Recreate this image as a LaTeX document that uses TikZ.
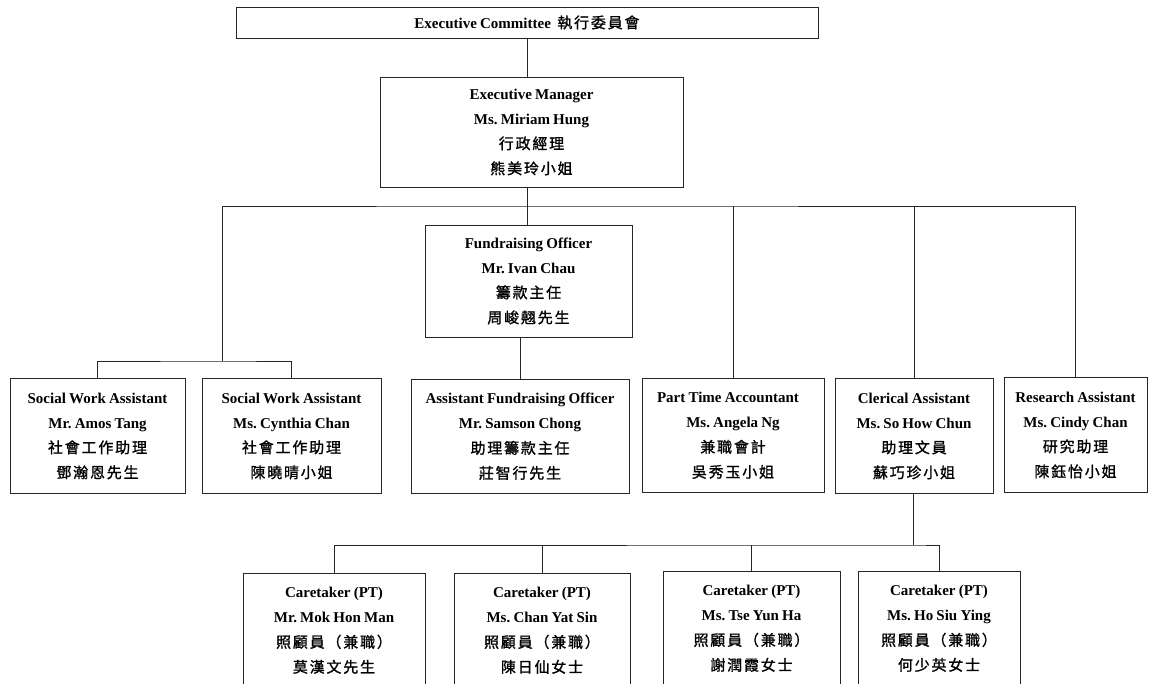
\documentclass[tikz,border=0pt]{standalone}
\usepackage{fontspec}
\setmainfont[WordSpace=0.85]{Liberation Serif}
\newfontfamily\cjk[LetterSpace=12,FakeBold=1.2]{Noto Sans CJK TC}
\frenchspacing
\begin{document}
\begin{tikzpicture}[x=1pt,y=-1pt,
  box/.style={draw=black!85, line width=0.9pt, align=center, inner sep=0pt,
    font=\fontsize{15}{25}\selectfont\bfseries\frenchspacing},
  link/.style={draw=black!85, line width=0.8pt}]
\useasboundingbox (0,0) rectangle (1150,684);
\begin{scope}
\clip (0,0) rectangle (1150,684);
\newcommand\zh[1]{{\cjk\mdseries\fontsize{15}{25}\selectfont #1}}
\node[box, minimum width=582pt, minimum height=31pt] (ec) at (527,22.5) {Executive Committee\ \ \zh{執行委員會}};
\node[box, minimum width=303pt, minimum height=110pt] (em) at (531.5,132) {Executive Manager\\Ms. Miriam Hung\\\zh{行政經理}\\\zh{熊美玲小姐}};
\node[box, minimum width=207pt, minimum height=112pt] (fo) at (528.5,281) {Fundraising Officer\\Mr. Ivan Chau\\\zh{籌款主任}\\\zh{周峻翹先生}};
\node[box, minimum width=175pt, minimum height=115pt] (swa1) at (97.5,436) {Social Work Assistant\\Mr. Amos Tang\\\zh{社會工作助理}\\\zh{鄧瀚恩先生}};
\node[box, minimum width=179pt, minimum height=115pt] (swa2) at (291.5,436) {Social Work Assistant\\Ms. Cynthia Chan\\\zh{社會工作助理}\\\zh{陳曉晴小姐}};
\node[box, minimum width=218pt, minimum height=114pt] (afo) at (520,436.5) {Assistant Fundraising Officer\\Mr. Samson Chong\\\zh{助理籌款主任}\\\zh{莊智行先生}};
\node[box, minimum width=182pt, minimum height=114pt] (pta) at (733,435.5) {Part Time Accountant\hspace*{10pt}\\Ms. Angela Ng\\\zh{兼職會計}\\\zh{吳秀玉小姐}};
\node[box, minimum width=158pt, minimum height=115pt] (ca) at (914,436) {Clerical Assistant\\Ms. So How Chun\\\zh{助理文員}\\\zh{蘇巧珍小姐}};
\node[box, minimum width=143pt, minimum height=115pt] (ra) at (1075.5,435) {Research Assistant\\Ms. Cindy Chan\\\zh{研究助理}\\\zh{陳鈺怡小姐}};
\node[box, minimum width=182pt, minimum height=115pt] (ct1) at (334,630.5) {Caretaker (PT)\\Mr. Mok Hon Man\\\zh{照顧員（兼職）}\\\zh{莫漢文先生}};
\node[box, minimum width=176pt, minimum height=115pt] (ct2) at (542,630.5) {Caretaker (PT)\\Ms. Chan Yat Sin\\\zh{照顧員（兼職）}\\\zh{陳日仙女士}};
\node[box, minimum width=177pt, minimum height=115pt] (ct3) at (751.5,628.5) {Caretaker (PT)\\Ms. Tse Yun Ha\\\zh{照顧員（兼職）}\\\zh{謝潤霞女士}};
\node[box, minimum width=162pt, minimum height=115pt] (ct4) at (939,628.5) {Caretaker (PT)\\Ms. Ho Siu Ying\\\zh{照顧員（兼職）}\\\zh{何少英女士}};
\coordinate (bus) at (527,206);
\coordinate (swj) at (222,361);
\coordinate (ctbus) at (913,545);
\draw[link] (ec.south -| bus) -- (bus |- em.north);
\draw[link] (bus |- em.south) -- (bus);
\draw[link] (swj) |- (bus) -| (ra.north);
\draw[link] (bus) -- (bus |- fo.north);
\draw[link] (pta.north |- bus) -- (pta.north);
\draw[link] (ca.north |- bus) -- (ca.north);
\draw[link] (swa1.north) |- (swj) -| (swa2.north);
\draw[link] (fo.south -| afo.north) -- (afo.north);
\draw[link] (ca.south -| ctbus) -- (ctbus);
\draw[link] (ct1.north) |- (ctbus) -| (ct4.north);
\draw[link] (ct2.north |- ctbus) -- (ct2.north);
\draw[link] (ct3.north |- ctbus) -- (ct3.north);
\end{scope}
\end{tikzpicture}
\end{document}
